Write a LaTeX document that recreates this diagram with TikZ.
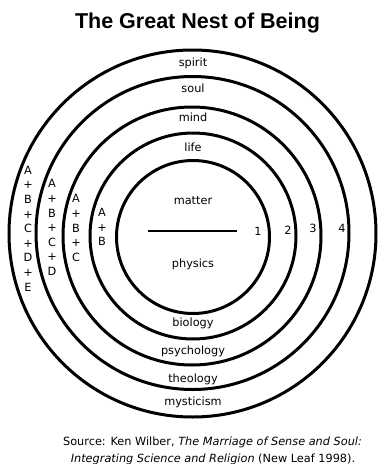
\documentclass[tikz,border=0pt]{standalone}
\usepackage{fontspec}
\setmainfont{DejaVu Sans}
\newfontfamily\titlefont{Liberation Sans}
\begin{document}
\begin{tikzpicture}[x=1pt,y=-1pt,
  ring/.style={line width=3pt},
  lbl/.style={font=\fontsize{11.3}{14.6}\selectfont, inner sep=0pt},
  col/.style={lbl, align=center},
  src/.style={font=\fontsize{11.3}{14}\selectfont, inner sep=0pt}]
\useasboundingbox (0,0) rectangle (390,464);
\node[inner sep=0pt, font=\titlefont\bfseries\fontsize{21.5}{24}\selectfont] (title) at (197.5,23) {The Great Nest of Being};
% rings
\draw[ring] (192.5,233.5) circle[radius=183.5pt];
\draw[ring] (192.5,233) circle[radius=156.5pt];
\draw[ring] (192,236) circle[radius=129pt];
\draw[ring] (193,236) circle[radius=103pt];
\draw[ring] (193,237) circle[radius=76.5pt];
% level labels
\node[lbl] (spirit) at (193,63) {spirit};
\node[lbl] (soul) at (193,88) {soul};
\node[lbl] (mind) at (193,117) {mind};
\node[lbl] (life) at (193,147) {life};
\node[lbl] (matter) at (193,201) {matter};
\node[lbl] (physics) at (193,264) {physics};
\node[lbl] (biology) at (193,323) {biology};
\node[lbl] (psychology) at (193,351) {psychology};
\node[lbl] (theology) at (193,379) {theology};
\node[lbl] (mysticism) at (193,402) {mysticism};
\coordinate (la) at (148,231);
\coordinate (lb) at (237,231);
\draw[line width=2pt] (la) -- (lb);
% numbers
\node[lbl] (n1) at (258,231) {1};
\node[lbl] (n2) at (288,230) {2};
\node[lbl] (n3) at (313,228) {3};
\node[lbl] (n4) at (342,228) {4};
% side columns
\node[col] (c1) at (28,228.5) {A\\+\\B\\+\\C\\+\\D\\+\\E};
\node[col] (c2) at (52,227.5) {A\\+\\B\\+\\C\\+\\D};
\node[col] (c3) at (76,228) {A\\+\\B\\+\\C};
\node[col] (c4) at (102,227) {A\\+\\B};
% source
\node[src] (s1) at (212.5,442) {Source: Ken Wilber, \textit{The Marriage of Sense and Soul:}};
\node[src] (s2) at (213,459) {\textit{Integrating Science and Religion} (New Leaf 1998).};
\end{tikzpicture}
\end{document}
